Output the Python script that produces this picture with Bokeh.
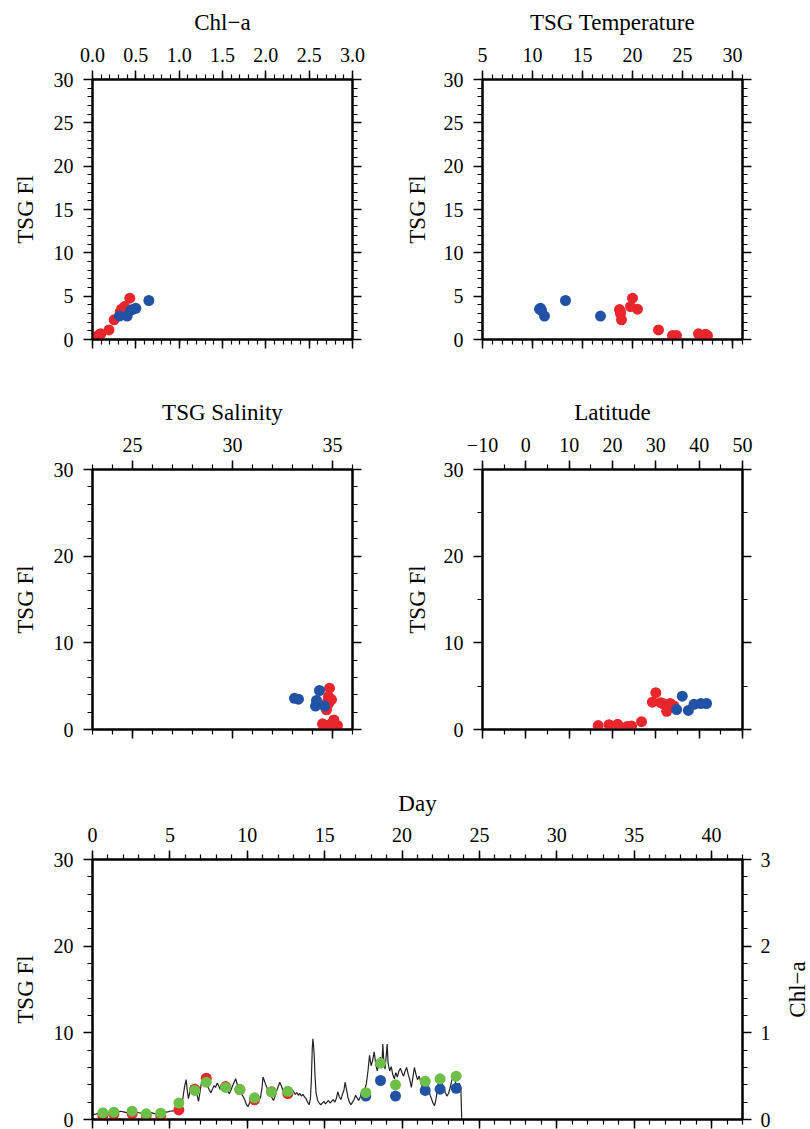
import math
from bokeh.plotting import figure
from bokeh.models import LinearAxis, Range1d, FixedTicker, NumeralTickFormatter, ColumnDataSource
from bokeh.core.properties import value
from bokeh.layouts import column, row
from bokeh.embed import file_html
from bokeh.resources import INLINE

FONT = "Liberation Serif"
GROUP_COLORS = {"A": "#e8262b", "B": "#2152a5"}
GREEN = "#6cbf47"

# ---------------- data ----------------
station_day = [0.67, 1.38, 2.56, 3.47, 4.41, 5.58, 6.61, 7.35, 8.60, 9.52, 10.47, 11.57, 12.62,
               17.66, 18.61, 19.58, 21.50, 22.46, 23.50]
station_group = ["A"] * 13 + ["B"] * 6
station_fl = [0.45, 0.60, 0.65, 0.45, 0.45, 1.10, 3.50, 4.77, 3.80, 3.45, 2.27, 3.20, 3.00,
              2.70, 4.50, 2.70, 3.35, 3.50, 3.60]
station_chl = [0.077, 0.085, 0.096, 0.065, 0.073, 0.19, 0.335, 0.43, 0.37, 0.345, 0.25, 0.32, 0.325,
               0.31, 0.65, 0.40, 0.44, 0.47, 0.50]
station_temp = [27.5, 27.3, 26.6, 24.4, 24.0, 22.6, 20.5, 20.0, 19.8, 18.7, 18.9, 18.8, 18.8,
                16.8, 13.3, 11.2, 10.9, 10.7, 10.8]
station_sal = [35.25, 34.9, 34.5, 34.7, 35.15, 35.07, 34.9, 34.85, 34.8, 34.95, 34.7, 34.75, 34.8,
               34.6, 34.35, 34.15, 34.2, 33.3, 33.1]
station_lat = [16.7, 19.2, 21.2, 23.4, 24.4, 26.7, 29.2, 30.0, 31.1, 31.6, 32.5, 33.3, 34.2,
               34.8, 36.1, 37.5, 38.8, 40.4, 41.7]
station_fl_lat = [0.45, 0.55, 0.60, 0.35, 0.40, 0.90, 3.15, 4.25, 3.10, 3.00, 2.10, 3.00, 2.70,
                  2.30, 3.85, 2.20, 2.90, 3.00, 3.00]

# continuous TSG fluorescence trace (day, value)
fl_trace = [
    (0.00, 0.55), (0.20, 0.62), (0.40, 0.70), (0.60, 0.80), (0.80, 0.74), (1.00, 0.85), (1.20, 0.78),
    (1.40, 0.90), (1.60, 0.82), (1.80, 0.95), (2.00, 0.88), (2.20, 0.80), (2.40, 0.92), (2.60, 1.00),
    (2.80, 0.85), (3.00, 0.78), (3.20, 0.70), (3.40, 0.62), (3.60, 0.72), (3.80, 0.80), (4.00, 0.68),
    (4.20, 0.75), (4.40, 0.82), (4.60, 0.90), (4.80, 0.85), (5.00, 0.95), (5.20, 1.00), (5.40, 1.05),
    (5.60, 1.20), (5.75, 1.30), (5.85, 2.60), (5.95, 3.80), (6.05, 4.60), (6.12, 3.40), (6.20, 2.40),
    (6.28, 3.10), (6.35, 3.90), (6.45, 3.30), (6.55, 3.70), (6.65, 4.10), (6.75, 2.90), (6.85, 2.10),
    (6.95, 3.20), (7.05, 4.40), (7.15, 4.00), (7.25, 4.60), (7.35, 4.20), (7.45, 3.80), (7.55, 3.40),
    (7.65, 3.10), (7.75, 3.50), (7.85, 3.90), (7.95, 3.70), (8.05, 4.20), (8.15, 3.90), (8.25, 3.50),
    (8.35, 3.60), (8.45, 3.30), (8.55, 3.80), (8.65, 3.50), (8.75, 3.20), (8.85, 3.00), (8.95, 3.40),
    (9.05, 3.90), (9.15, 4.30), (9.25, 4.70), (9.35, 4.10), (9.45, 3.50), (9.55, 3.20), (9.65, 2.90),
    (9.75, 2.60), (9.85, 2.20), (9.95, 1.70), (10.05, 1.50), (10.15, 1.90), (10.25, 2.30), (10.35, 2.00),
    (10.45, 2.40), (10.55, 2.80), (10.65, 2.60), (10.75, 2.30), (10.85, 2.50), (10.95, 3.60), (11.02, 4.90),
    (11.10, 4.50), (11.20, 4.00), (11.30, 3.50), (11.40, 3.10), (11.50, 2.80), (11.60, 2.50), (11.70, 2.20),
    (11.80, 2.70), (11.90, 3.30), (12.00, 3.80), (12.10, 4.30), (12.20, 3.90), (12.30, 3.40), (12.40, 2.90),
    (12.50, 2.50), (12.60, 2.80), (12.70, 3.30), (12.80, 3.00), (12.90, 3.40), (13.00, 3.20), (13.10, 2.90),
    (13.20, 3.10), (13.30, 2.80), (13.40, 3.00), (13.50, 2.70), (13.60, 2.90), (13.70, 2.60), (13.80, 2.40),
    (13.90, 2.00), (14.00, 1.70), (14.08, 2.40), (14.14, 4.50), (14.20, 8.20), (14.24, 9.30), (14.28, 8.60),
    (14.32, 7.60), (14.38, 5.00), (14.45, 3.00), (14.55, 2.20), (14.65, 1.90), (14.75, 1.70), (14.85, 1.90),
    (14.95, 2.10), (15.05, 1.80), (15.15, 2.00), (15.25, 2.20), (15.35, 1.90), (15.45, 2.10), (15.55, 2.30),
    (15.65, 2.00), (15.75, 2.40), (15.85, 3.20), (15.95, 2.60), (16.05, 2.30), (16.15, 2.90), (16.25, 3.40),
    (16.32, 4.30), (16.40, 3.60), (16.50, 2.60), (16.60, 2.00), (16.70, 1.70), (16.80, 2.00), (16.90, 2.30),
    (17.00, 2.80), (17.10, 2.50), (17.20, 2.20), (17.30, 2.60), (17.40, 3.30), (17.50, 3.00), (17.60, 3.50),
    (17.70, 4.20), (17.80, 5.60), (17.90, 7.40), (18.00, 6.20), (18.10, 6.80), (18.20, 7.80), (18.30, 6.40),
    (18.40, 5.60), (18.50, 6.40), (18.60, 7.20), (18.70, 6.20), (18.76, 8.70), (18.82, 6.80), (18.90, 5.80),
    (18.98, 7.40), (19.04, 8.70), (19.10, 6.50), (19.20, 5.60), (19.30, 6.10), (19.40, 5.20), (19.50, 4.70),
    (19.60, 5.40), (19.70, 4.90), (19.80, 5.60), (19.90, 5.90), (20.00, 5.40), (20.10, 5.00), (20.20, 5.60),
    (20.30, 6.00), (20.40, 5.20), (20.50, 4.60), (20.60, 3.70), (20.70, 4.80), (20.80, 6.00), (20.90, 5.20),
    (21.00, 4.60), (21.10, 5.00), (21.20, 4.40), (21.30, 3.70), (21.40, 3.30), (21.50, 3.60), (21.60, 4.00),
    (21.70, 3.50), (21.80, 2.90), (21.90, 2.40), (22.00, 1.90), (22.10, 1.60), (22.20, 2.40), (22.30, 3.60),
    (22.40, 4.80), (22.50, 5.00), (22.60, 4.20), (22.70, 3.60), (22.80, 3.10), (22.90, 2.70), (23.00, 3.00),
    (23.10, 3.60), (23.20, 4.40), (23.30, 5.00), (23.40, 4.60), (23.50, 4.00), (23.60, 3.80), (23.70, 4.20),
    (23.80, 3.70), (23.86, 0.00),
]
trace_day = [d for d, v in fl_trace]
trace_fl = [v for d, v in fl_trace]

# axis tick labels
chl_ticks = [0.0, 0.5, 1.0, 1.5, 2.0, 2.5, 3.0]
temp_ticks = [5, 10, 15, 20, 25, 30]
sal_ticks = [25, 30, 35]
lat_ticks = [-10, 0, 10, 20, 30, 40, 50]
fl_ticks_5 = [0, 5, 10, 15, 20, 25, 30]
fl_ticks_10 = [0, 10, 20, 30]
day_ticks = [0, 5, 10, 15, 20, 25, 30, 35, 40]
chl_right_ticks = [0, 1, 2, 3]

TICK_FS = "20px"
TITLE_FS = "23px"


def steps(a, b, step):
    n = int(round((b - a) / step))
    return [round(a + i * step, 6) for i in range(n + 1)]


def style_axis(ax, major, minor, show_labels, label=None, fmt=None, overrides=None,
               lab_standoff=10, title_standoff=13):
    ax.ticker = FixedTicker(ticks=major, minor_ticks=minor)
    ax.axis_line_color = "black"
    ax.axis_line_width = 2
    ax.major_tick_line_color = "black"
    ax.major_tick_line_width = 1.5
    ax.minor_tick_line_color = "black"
    ax.minor_tick_line_width = 1.2
    ax.major_tick_in = 0
    ax.major_tick_out = 9
    ax.minor_tick_in = 0
    ax.minor_tick_out = 5
    ax.major_label_text_font = FONT
    if show_labels:
        ax.major_label_text_color = "black"
        ax.major_label_text_font_size = TICK_FS
        ax.major_label_standoff = lab_standoff
    else:
        ax.major_label_text_color = None
        ax.major_label_text_font_size = "1px"
        ax.major_label_standoff = 0
    if fmt is not None:
        ax.formatter = fmt
    if overrides:
        ax.major_label_overrides = overrides
    if label:
        ax.axis_label = label
        ax.axis_label_text_font = FONT
        ax.axis_label_text_font_size = TITLE_FS
        ax.axis_label_text_font_style = "normal"
        ax.axis_label_text_color = "black"
        ax.axis_label_standoff = title_standoff


def base_fig(width, height, left, right, top, bottom, xr, yr):
    p = figure(width=width, height=height, x_range=Range1d(*xr), y_range=Range1d(*yr),
               x_axis_location="above", y_axis_location="left",
               toolbar_location=None, output_backend="svg",
               min_border_left=left, min_border_right=right,
               min_border_top=top, min_border_bottom=bottom)
    p.xgrid.grid_line_color = None
    p.ygrid.grid_line_color = None
    p.outline_line_color = "black"
    p.outline_line_width = 2
    p.background_fill_color = "white"
    p.border_fill_color = "white"
    return p


def scatter_panel(xvals, yvals, xr, yr, xmaj, xmin, ymaj, ymin, title, width, left, right,
                  height, top, bottom, fmt=None, overrides=None, ytitle_standoff=13):
    p = base_fig(width, height, left, right, top, bottom, xr, yr)
    style_axis(p.xaxis[0], xmaj, xmin, True, label=title, fmt=fmt, overrides=overrides,
               lab_standoff=9, title_standoff=10)
    style_axis(p.yaxis[0], ymaj, ymin, True, label="TSG Fl", lab_standoff=10,
               title_standoff=ytitle_standoff)
    bx = LinearAxis()
    p.add_layout(bx, "below")
    style_axis(bx, xmaj, xmin, False)
    ry = LinearAxis()
    p.add_layout(ry, "right")
    style_axis(ry, ymaj, ymin, False)
    src = ColumnDataSource(dict(x=xvals, y=yvals,
                                c=[GROUP_COLORS[g] for g in station_group]))
    p.scatter("x", "y", source=src, size=11, color="c", line_color=None)
    return p


pA = scatter_panel(station_chl, station_fl, (0, 3), (0, 30), chl_ticks, steps(0, 3, 0.1),
                   fl_ticks_5, steps(0, 30, 1), "Chl−a", 400, 92, 48, 370, 79, 31,
                   fmt=NumeralTickFormatter(format="0.0"))
pB = scatter_panel(station_temp, station_fl, (5, 31), (0, 30), temp_ticks, steps(5, 31, 1),
                   fl_ticks_5, steps(0, 30, 1), "TSG Temperature", 410, 82, 68, 370, 79, 31,
                   ytitle_standoff=11)
pC = scatter_panel(station_sal, station_fl, (23, 36), (0, 30), sal_ticks, steps(23, 36, 1),
                   fl_ticks_10, steps(0, 30, 2), "TSG Salinity", 400, 92, 48, 410, 99, 51)
pD = scatter_panel(station_lat, station_fl_lat, (-10, 50), (0, 30), lat_ticks, steps(-10, 50, 5),
                   fl_ticks_10, steps(0, 30, 5), "Latitude", 410, 82, 68, 410, 99, 51,
                   overrides={-10: "−10"}, ytitle_standoff=11)

# ---- bottom time-series panel ----
pE = base_fig(782, 349, 92, 40, 79, 10, (0, 42), (0, 30))
pE.extra_y_ranges = {"chl": Range1d(0, 3)}
style_axis(pE.xaxis[0], day_ticks, steps(0, 42, 1), True, label="Day", lab_standoff=9, title_standoff=9)
style_axis(pE.yaxis[0], fl_ticks_10, steps(0, 30, 2), True, label="TSG Fl", lab_standoff=10, title_standoff=13)
bxE = LinearAxis()
pE.add_layout(bxE, "below")
style_axis(bxE, day_ticks, steps(0, 42, 1), False)
ryE = LinearAxis(y_range_name="chl")
pE.add_layout(ryE, "right")
style_axis(ryE, chl_right_ticks, steps(0, 3, 0.2), True, lab_standoff=9)

pE.line(trace_day, trace_fl, line_color="#222222", line_width=1.2)
srcE = ColumnDataSource(dict(x=station_day, y=station_fl,
                             c=[GROUP_COLORS[g] for g in station_group]))
pE.scatter("x", "y", source=srcE, size=11, color="c", line_color=None)
pE.scatter(station_day, station_chl, y_range_name="chl", size=11, color=GREEN, line_color=None)

# right-hand axis title (reads bottom to top, as in the reference)
pLab = figure(width=28, height=349, x_range=Range1d(0, 1), y_range=Range1d(0, 1),
              x_axis_type=None, y_axis_type=None, toolbar_location=None, output_backend="svg",
              min_border_left=0, min_border_right=0, min_border_top=79, min_border_bottom=10)
pLab.xgrid.grid_line_color = None
pLab.ygrid.grid_line_color = None
pLab.outline_line_color = None
pLab.text(x=[0.55], y=[0.5], text=["Chl−a"], angle=math.pi / 2, text_align="center",
          text_baseline="middle", text_font=value(FONT), text_font_size=TITLE_FS, text_color="black")

layout = column(row(pA, pB), row(pC, pD), row(pE, pLab))
open("out.html", "w").write(file_html(layout, INLINE))
